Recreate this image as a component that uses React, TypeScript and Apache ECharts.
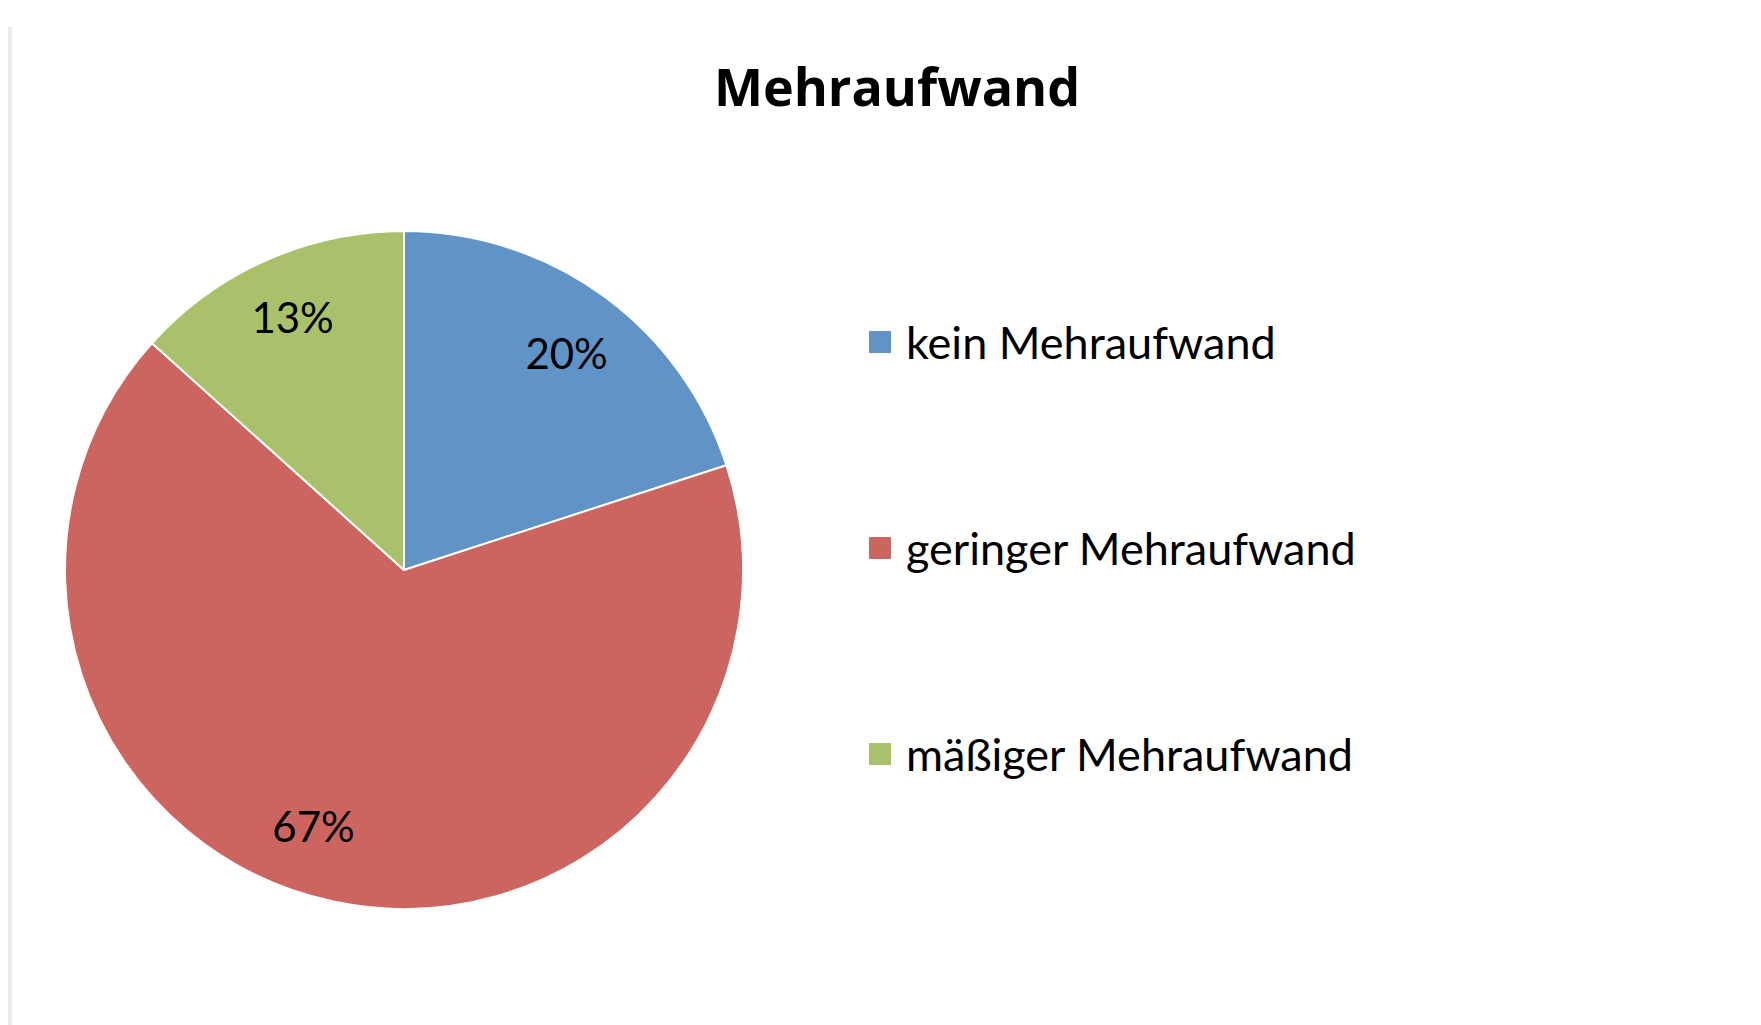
import React, { useEffect, useRef } from "react";
import * as echarts from "echarts";

const titleText = "Mehraufwand";
const categories = ["kein Mehraufwand", "geringer Mehraufwand", "mäßiger Mehraufwand"];
const values = [3, 10, 2];
const colors = ["#6194C6", "#CC655F", "#A8C16A"];
// Excel "best fit" nudges of the percentage labels (pixels)
const labelNudges = [[3, 3], [-34, -10], [-1, -5]];

export default function App() {
  const ref = useRef<HTMLDivElement>(null);
  useEffect(() => {
    if (!ref.current) return;
    const chart = echarts.init(ref.current, null, { renderer: "svg" });
    const center = [404, 570];
    const R = 339;
    const baseData = categories.map((name, i) => ({ name, value: values[i] }));
    const labelData = categories.map((name, i) => ({
      name,
      value: values[i],
      label: { offset: labelNudges[i] },
    }));
    chart.setOption({
      animation: false,
      backgroundColor: "#ffffff",
      color: colors,
      title: {
        text: titleText,
        left: 892,
        top: 54,
        textAlign: "center",
        textStyle: { fontFamily: "Open Sans", fontWeight: "bold", fontSize: 52, color: "#000" },
      },
      legend: {
        orient: "vertical",
        left: 862,
        top: 310,
        itemWidth: 24,
        itemHeight: 24,
        itemGap: 152,
        icon: "rect",
        data: categories,
        textStyle: {
          fontFamily: "Lato",
          fontSize: 45,
          color: "#000",
          lineHeight: 50,
          padding: [4, 0, 0, 9],
        },
      },
      graphic: [
        { type: "rect", shape: { x: 8, y: 27, width: 4, height: 1000 }, style: { fill: "#ececec" }, silent: true },
      ],
      series: [
        {
          type: "pie",
          center,
          radius: [0, R],
          startAngle: 90,
          clockwise: true,
          data: baseData,
          label: { show: false },
          labelLine: { show: false },
          itemStyle: { borderColor: "#ffffff", borderWidth: 2 },
          emphasis: { disabled: true },
        },
        {
          type: "pie",
          center,
          radius: [198, R],
          startAngle: 90,
          clockwise: true,
          data: labelData,
          silent: true,
          itemStyle: { color: "transparent", borderWidth: 0 },
          label: {
            show: true,
            position: "inside",
            formatter: (p: any) => Math.round(p.percent) + "%",
            fontFamily: "Lato",
            fontSize: 42,
            color: "#000",
          },
          labelLine: { show: false },
          emphasis: { disabled: true },
        },
      ],
    });
    return () => chart.dispose();
  }, []);
  return <div ref={ref} style={{ position: "fixed", left: 0, top: 0, width: 1761, height: 1025 }} />;
}
